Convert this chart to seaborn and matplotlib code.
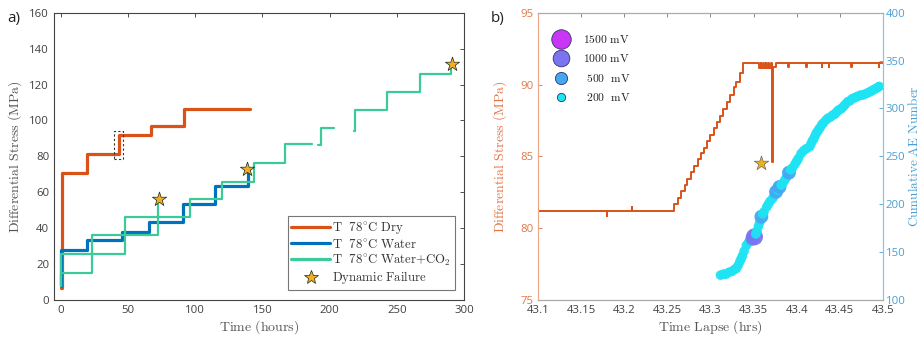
import matplotlib
matplotlib.use("Agg")
import matplotlib.pyplot as plt
from matplotlib.lines import Line2D
from matplotlib.patches import Rectangle
import pandas as pd
import seaborn as sns

# ---------------- (a) stepped creep tests ----------------
dry_time = [0, 0.8, 19.5, 43, 66.8, 91.5, 140.8]
dry_stress = [6.5, 70.5, 81.3, 91.9, 96.9, 106.2, 106.2]

water_time = [0, 0.5, 19.5, 45.5, 66, 90.8, 115, 139]
water_stress = [8, 27.8, 33.4, 38, 43.6, 53.5, 63.5, 71]

co2a_time = [0, 0.5, 23.5, 72.5]
co2a_stress = [8, 15.2, 36.2, 54]

co2b1_time = [0, 0.5, 47.8, 95.8, 120, 144, 166.8, 187]
co2b1_stress = [8, 25.6, 46.4, 56, 65.5, 76.1, 86.9, 86.9]
co2b2_time = [191, 193.5, 203]
co2b2_stress = [86.5, 95.6, 95.6]
co2b3_time = [218, 219, 243, 267, 290.5]
co2b3_stress = [94, 105.8, 115.7, 125.9, 129.5]

fail_time = [73, 138.6, 291.3]
fail_stress = [56, 72.8, 131.3]

# ---------------- (b) zoom on one failure ----------------
b_time = [43.100, 43.1795, 43.1805, 43.2085, 43.2095,
          43.258, 43.262, 43.266, 43.270, 43.273, 43.277, 43.281, 43.285,
          43.289, 43.292, 43.296, 43.300, 43.304, 43.308, 43.311, 43.315,
          43.319, 43.323, 43.327, 43.330, 43.334, 43.338,
          43.356, 43.358, 43.3585, 43.361, 43.3615, 43.364, 43.3645, 43.367,
          43.3675, 43.370, 43.3712, 43.3722, 43.3765,
          43.3900, 43.3908, 43.4110, 43.4118, 43.4290, 43.4298,
          43.4370, 43.4378, 43.4630, 43.4638, 43.4950, 43.4958, 43.500]
b_stress = [81.2, 80.85, 81.2, 81.5, 81.2,
            81.7, 82.1, 82.6, 83.0, 83.4, 83.9, 84.3, 84.8,
            85.2, 85.6, 86.1, 86.5, 87.0, 87.4, 87.8, 88.3,
            88.8, 89.3, 89.8, 90.2, 90.8, 91.5,
            91.15, 91.5, 91.15, 91.5, 91.15, 91.5, 91.15, 91.5,
            91.15, 91.5, 84.6, 91.2, 91.5,
            91.2, 91.5, 91.2, 91.5, 91.2, 91.5,
            91.2, 91.5, 91.2, 91.5, 91.2, 91.5, 91.5]

b_fail_time = [43.358]
b_fail_stress = [84.57]

ae_time = [43.3116, 43.3150, 43.3180, 43.3215, 43.3250, 43.3280, 43.3300,
           43.3320, 43.3340, 43.3355, 43.3370, 43.3390, 43.3416, 43.3440,
           43.3460, 43.3485, 43.3510, 43.3525, 43.3540, 43.3555, 43.3570,
           43.3590, 43.3605, 43.3620, 43.3650, 43.3670, 43.3690, 43.3720,
           43.3740, 43.3760, 43.3780, 43.3800, 43.3820, 43.3840, 43.3860,
           43.3880, 43.3910, 43.3930, 43.3950, 43.3980, 43.4000, 43.4020,
           43.4050, 43.4080, 43.4110, 43.4150, 43.4165, 43.4180, 43.4195,
           43.4210, 43.4225, 43.4240, 43.4255, 43.4270, 43.4290, 43.4310,
           43.4340, 43.4365, 43.4390, 43.4415, 43.4440, 43.4460, 43.4480,
           43.4500, 43.4520, 43.4540, 43.4560, 43.4590, 43.4615, 43.4640,
           43.4665, 43.4690, 43.4715, 43.4740, 43.4765, 43.4790, 43.4815,
           43.4840, 43.4860, 43.4880, 43.4900, 43.4920, 43.4940, 43.4955]
ae_count = [126, 127, 127, 129, 130, 132, 133,
            136, 140, 143, 146, 151, 157, 160,
            162, 164, 166, 169, 172, 177, 181,
            187, 190, 192, 197, 200, 203, 206,
            209, 213, 215, 218, 220, 222, 225,
            228, 233, 236, 238, 242, 245, 248,
            253, 256, 258, 260, 263, 266, 268,
            271, 274, 276, 278, 280, 283, 285,
            288, 290, 291, 293, 294, 296, 298,
            299, 300, 302, 304, 307, 308, 310,
            311, 312, 313, 314, 314, 315, 316,
            317, 318, 319, 320, 321, 322, 323]
ae_amp = [200] * len(ae_time)
for i in (15, 21, 29, 31, 36):
    ae_amp[i] = 500
ae_amp[16] = 1000

amp_levels = [1500, 1000, 500, 200]
amp_colors = {200: "#1EE3F2", 500: "#45A6F2", 1000: "#7C73F0", 1500: "#C936F6"}
amp_sizes = {200: 48, 500: 100, 1000: 150, 1500: 210}
amp_key_size = {1500: 14.0, 1000: 12.0, 500: 8.8, 200: 6.0}

C_DRY = "#D95319"
C_WAT = "#0072BD"
C_CO2 = "#3CCB98"
C_STAR = "#EDB120"
C_AE = "#4A9FD4"
C_ST_AX = "#E0764A"

sns.set_theme(style="white")
plt.rcParams["font.family"] = ["Open Sans", "DejaVu Sans"]
plt.rcParams["mathtext.fontset"] = "cm"
plt.rcParams["xtick.direction"] = "in"
plt.rcParams["ytick.direction"] = "in"

fig = plt.figure(figsize=(9.22, 3.39), dpi=100)
ax = fig.add_axes([0.0586, 0.115, 0.4447, 0.8475])
axb = fig.add_axes([0.5835, 0.115, 0.3742, 0.8475])

# ---- panel a ----
def frame(times, stresses, seg):
    return pd.DataFrame({"time": times, "stress": stresses, "seg": seg})

series = [
    (pd.concat([frame(dry_time, dry_stress, 0)]), C_DRY, 2.3),
    (pd.concat([frame(water_time, water_stress, 0)]), C_WAT, 2.3),
    (pd.concat([frame(co2a_time, co2a_stress, 0),
                frame(co2b1_time, co2b1_stress, 1),
                frame(co2b2_time, co2b2_stress, 2),
                frame(co2b3_time, co2b3_stress, 3)]), C_CO2, 1.6),
]
for df, col, lw in series:
    sns.lineplot(data=df, x="time", y="stress", units="seg", estimator=None,
                 sort=False, drawstyle="steps-post", color=col, lw=lw,
                 legend=False, ax=ax)

fails = pd.DataFrame({"time": fail_time, "stress": fail_stress})
sns.scatterplot(data=fails, x="time", y="stress", marker="*", s=115,
                color=C_STAR, edgecolor="#222222", linewidth=0.5,
                zorder=5, legend=False, ax=ax)

ax.add_patch(Rectangle((39.6, 78.4), 6.7, 15.7, fill=False, ls=(0, (2, 2)),
                       lw=0.8, ec="#333333", zorder=6))

ax.set_xlim(-5, 300)
ax.set_ylim(0, 160)
ax.set_xticks(range(0, 301, 50))
ax.set_yticks(range(0, 161, 20))
ax.tick_params(labelsize=8.2, colors="#333333", length=3, width=0.6,
               top=True, right=True)
for lab in ax.get_xticklabels() + ax.get_yticklabels():
    lab.set_color("#404040")
for sp in ax.spines.values():
    sp.set_color("#444444")
    sp.set_linewidth(0.8)
ax.set_xlabel(r"$\mathrm{Time\ (hours)}$", fontsize=10, color="#555555",
              labelpad=2)
ax.set_ylabel(r"$\mathrm{Differential\ Stress\ (MPa)}$", fontsize=10,
              color="#555555", labelpad=4)

handles = [Line2D([], [], color=C_DRY, lw=2.3),
           Line2D([], [], color=C_WAT, lw=2.3),
           Line2D([], [], color=C_CO2, lw=2.3),
           Line2D([], [], ls="none", marker="*", markersize=10,
                  markerfacecolor=C_STAR, markeredgecolor="#222222",
                  markeredgewidth=0.5)]
labels = [r"$\mathrm{T\ \ 78^{\circ}C\ Dry}$",
          r"$\mathrm{T\ \ 78^{\circ}C\ Water}$",
          r"$\mathrm{T\ \ 78^{\circ}C\ Water{+}CO_2}$",
          r"$\mathrm{Dynamic\ Failure}$"]
leg = ax.legend(handles, labels, loc="lower right",
                bbox_to_anchor=(0.978, 0.035), fontsize=9.2, frameon=True,
                fancybox=False, handlelength=3.0, handletextpad=0.2,
                labelspacing=0.12, borderpad=0.3, borderaxespad=0.0)
leg.get_frame().set_edgecolor("#555555")
leg.get_frame().set_linewidth(0.8)
for t in leg.get_texts():
    t.set_color("#333333")

# ---- panel b ----
ax2 = axb.twinx()
bdf = pd.DataFrame({"time": b_time, "stress": b_stress})
sns.lineplot(data=bdf, x="time", y="stress", estimator=None, sort=False,
             drawstyle="steps-post", color=C_DRY, lw=1.4, legend=False, ax=axb)
bf = pd.DataFrame({"time": b_fail_time, "stress": b_fail_stress})
sns.scatterplot(data=bf, x="time", y="stress", marker="*", s=120,
                color=C_STAR, edgecolor="#555555", linewidth=0.4,
                zorder=5, legend=False, ax=axb)

ae = pd.DataFrame({"time": ae_time, "count": ae_count, "amp": ae_amp})
sns.scatterplot(data=ae, x="time", y="count", hue="amp", size="amp",
                palette=amp_colors, sizes=amp_sizes, hue_order=[200, 500, 1000],
                size_order=[200, 500, 1000], edgecolor="none", alpha=0.95,
                legend=False, ax=ax2)

axb.set_xlim(43.1, 43.5)
axb.set_ylim(75, 95)
ax2.set_ylim(100, 400)
xt = [43.1, 43.15, 43.2, 43.25, 43.3, 43.35, 43.4, 43.45, 43.5]
axb.set_xticks(xt)
axb.set_xticklabels(["43.1", "43.15", "43.2", "43.25", "43.3", "43.35",
                     "43.4", "43.45", "43.5"])
axb.set_yticks([75, 80, 85, 90, 95])
ax2.set_yticks([100, 150, 200, 250, 300, 350, 400])
axb.tick_params(axis="x", labelsize=8.2, labelcolor="#404040", color="#777777",
                length=3, width=0.6, top=True)
axb.tick_params(axis="y", labelsize=8.2, labelcolor=C_ST_AX, color=C_ST_AX,
                length=3, width=0.6)
ax2.tick_params(axis="y", labelsize=8.2, labelcolor=C_AE, color=C_AE,
                length=3, width=0.6, pad=2)
for a in (axb, ax2):
    a.spines["top"].set_color("#AAAAAA")
    a.spines["bottom"].set_color("#AAAAAA")
    a.spines["left"].set_color("#EBA88A")
    a.spines["right"].set_color("#8CC3E6")
    for sp in a.spines.values():
        sp.set_linewidth(0.8)
axb.set_xlabel(r"$\mathrm{Time\ Lapse\ (hrs)}$", fontsize=10, color="#555555",
               labelpad=2)
axb.set_ylabel(r"$\mathrm{Differential\ Stress\ (MPa)}$", fontsize=10,
               color=C_ST_AX, labelpad=8)
ax2.set_ylabel(r"$\mathrm{Cumulative\ AE\ Number}$", fontsize=9.5, color=C_AE,
               labelpad=1)

amp_handles = [Line2D([], [], ls="none", marker="o",
                      markersize=amp_key_size[a],
                      markerfacecolor=amp_colors[a],
                      markeredgecolor="#333366", markeredgewidth=0.6)
               for a in amp_levels]
amp_labels = [r"$\mathrm{1500\ mV}$", r"$\mathrm{1000\ mV}$",
              r"$\mathrm{\ 500\ \ mV}$", r"$\mathrm{\ 200\ \ mV}$"]
leg2 = axb.legend(amp_handles, amp_labels, loc="upper left",
                  bbox_to_anchor=(0.03, 0.945), frameon=False, fontsize=8.3,
                  handlelength=1.4, handletextpad=1.2, labelspacing=0.55,
                  borderaxespad=0.0)
for t in leg2.get_texts():
    t.set_color("#222222")

fig.text(0.008, 0.935, "a)", fontsize=11, color="#222222")
fig.text(0.532, 0.935, "b)", fontsize=11, color="#222222")

fig.savefig("out.png", dpi=100)
